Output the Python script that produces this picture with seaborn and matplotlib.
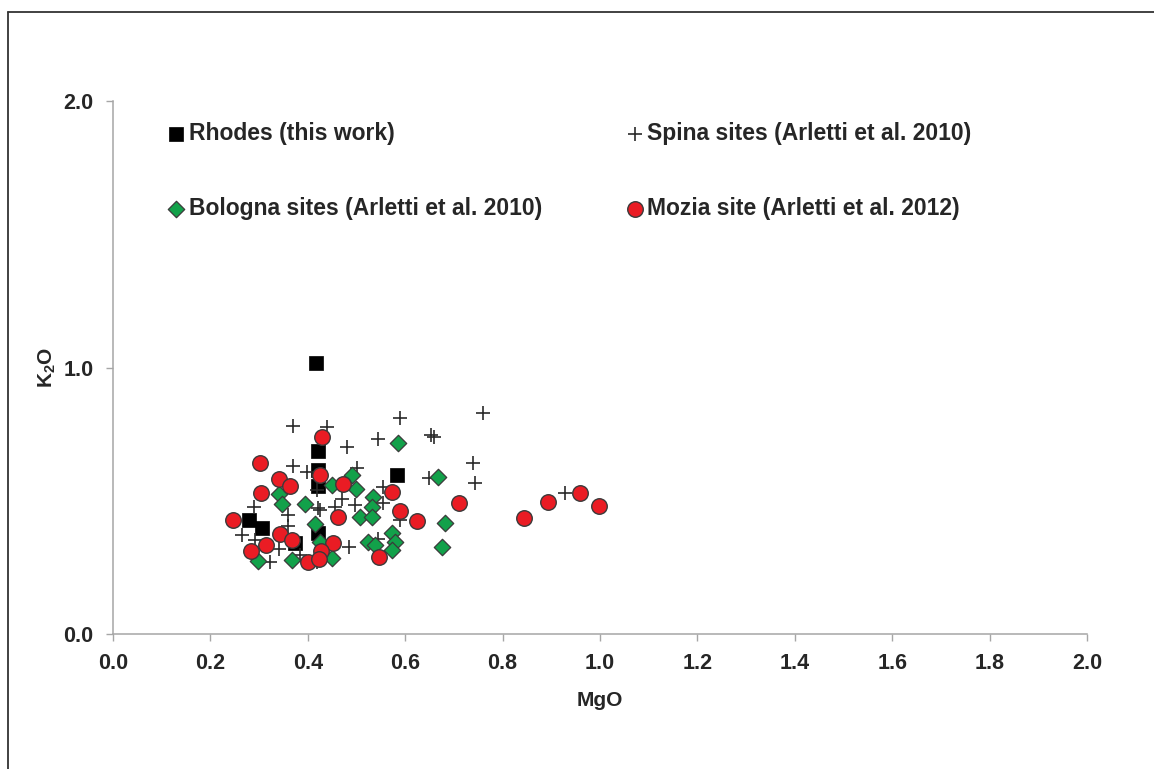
import matplotlib
matplotlib.use("Agg")
import matplotlib.pyplot as plt
import seaborn as sns
import pandas as pd
from matplotlib.lines import Line2D

# ---------------- data (MgO, K2O) ----------------
rhodes_mgo = [0.416, 0.420, 0.420, 0.420, 0.583, 0.279, 0.306, 0.374, 0.421]
rhodes_k2o = [1.018, 0.687, 0.615, 0.555, 0.597, 0.428, 0.397, 0.342, 0.379]

spina_mgo = [0.370, 0.440, 0.590, 0.545, 0.480, 0.370, 0.398, 0.500, 0.555, 0.470,
             0.456, 0.497, 0.555, 0.590, 0.290, 0.360, 0.360, 0.420, 0.418, 0.264,
             0.292, 0.340, 0.322, 0.384, 0.418, 0.485, 0.545, 0.654, 0.660, 0.760,
             0.740, 0.743, 0.648, 0.928, 0.425]
spina_k2o = [0.780, 0.778, 0.810, 0.730, 0.700, 0.630, 0.609, 0.622, 0.550, 0.508,
             0.478, 0.485, 0.490, 0.428, 0.475, 0.445, 0.405, 0.472, 0.540, 0.371,
             0.353, 0.318, 0.272, 0.298, 0.272, 0.328, 0.355, 0.748, 0.740, 0.830,
             0.643, 0.565, 0.585, 0.530, 0.465]

bologna_mgo = [0.586, 0.490, 0.449, 0.499, 0.340, 0.346, 0.394, 0.534, 0.532, 0.507,
               0.531, 0.415, 0.572, 0.579, 0.572, 0.524, 0.538, 0.298, 0.367, 0.449,
               0.425, 0.668, 0.682, 0.675]
bologna_k2o = [0.716, 0.595, 0.559, 0.543, 0.527, 0.488, 0.487, 0.514, 0.478, 0.440,
               0.440, 0.412, 0.380, 0.346, 0.314, 0.346, 0.334, 0.275, 0.279, 0.287,
               0.346, 0.588, 0.418, 0.328]

mozia_mgo = [0.429, 0.302, 0.340, 0.363, 0.303, 0.425, 0.473, 0.572, 0.589, 0.624,
             0.463, 0.247, 0.342, 0.367, 0.283, 0.314, 0.452, 0.427, 0.401, 0.423,
             0.546, 0.711, 0.843, 0.894, 0.959, 0.997]
mozia_k2o = [0.740, 0.640, 0.582, 0.557, 0.530, 0.597, 0.561, 0.532, 0.463, 0.423,
             0.440, 0.428, 0.377, 0.354, 0.313, 0.333, 0.340, 0.312, 0.271, 0.280,
             0.289, 0.493, 0.434, 0.497, 0.528, 0.480]

labels = ["Rhodes (this work)", "Spina sites (Arletti et al. 2010)",
          "Bologna sites (Arletti et al. 2010)", "Mozia site (Arletti et al. 2012)"]
x_ticks = [0.0, 0.2, 0.4, 0.6, 0.8, 1.0, 1.2, 1.4, 1.6, 1.8, 2.0]
y_ticks = [0.0, 1.0, 2.0]

# ---------------- style ----------------
sns.set_style("white")
plt.rcParams["font.family"] = ["Liberation Sans", "DejaVu Sans"]
plt.rcParams["font.weight"] = "bold"
plt.rcParams["mathtext.fontset"] = "custom"
plt.rcParams["mathtext.rm"] = "Liberation Sans:bold"
plt.rcParams["mathtext.default"] = "rm"

fig = plt.figure(figsize=(11.54, 7.69), dpi=100)
ax = fig.add_axes([113 / 1154, 1 - 634 / 769, (1087 - 113) / 1154, (634 - 101) / 769])

edge = "#3a3a3a"
sns.scatterplot(x=rhodes_mgo, y=rhodes_k2o, ax=ax, marker="s", s=100,
                color="black", edgecolor="black", linewidth=0.5, label=labels[0], zorder=3)
sns.scatterplot(x=spina_mgo, y=spina_k2o, ax=ax, marker="+", s=115,
                color="#2a2a2a", linewidth=1.2, label=labels[1], zorder=3)
sns.scatterplot(x=bologna_mgo, y=bologna_k2o, ax=ax, marker="D", s=70,
                color="#12a14a", edgecolor=edge, linewidth=0.9, label=labels[2], zorder=4)
sns.scatterplot(x=mozia_mgo, y=mozia_k2o, ax=ax, marker="o", s=125,
                color="#ea1c24", edgecolor=edge, linewidth=1.0, label=labels[3], zorder=5)

ax.set_xlim(0, 2.0)
ax.set_ylim(0, 2.0)
ax.set_xticks(x_ticks)
ax.set_xticklabels([f"{v:.1f}" for v in x_ticks])
ax.set_yticks(y_ticks)
ax.set_yticklabels([f"{v:.1f}" for v in y_ticks])

for side in ["top", "right"]:
    ax.spines[side].set_visible(False)
for side in ["left", "bottom"]:
    ax.spines[side].set_color("#a6a6a6")
    ax.spines[side].set_linewidth(1.1)
ax.tick_params(axis="both", which="major", direction="out", length=5, width=1.0,
               color="#a6a6a6", labelsize=15.5, bottom=True, left=True)
ax.tick_params(axis="x", pad=9)
ax.tick_params(axis="y", pad=9)
for t in ax.get_xticklabels() + ax.get_yticklabels():
    t.set_fontweight("bold")

ax.set_xlabel("MgO", fontsize=15, fontweight="bold", labelpad=12)
ax.set_ylabel("K$_2$O", fontsize=15, fontweight="bold", labelpad=4)

# legend: two columns, order Rhodes/Bologna in col 1, Spina/Mozia in col 2
h, l = ax.get_legend_handles_labels()
order = [0, 2, 1, 3]
leg = ax.legend([h[i] for i in order], [l[i] for i in order], ncol=2,
                loc="upper left", bbox_to_anchor=(0.033, 0.9986), frameon=False,
                prop={"weight": "bold", "size": 16.5}, handletextpad=0.1,
                handlelength=0.9, columnspacing=3.6, labelspacing=2.27,
                markerscale=1.0)

# partial outer frame (top and left)
fig.add_artist(Line2D([8 / 1154, 8 / 1154], [0, 1 - 12 / 769], color="#333333",
                      lw=1.3, transform=fig.transFigure))
fig.add_artist(Line2D([8 / 1154, 1], [1 - 12 / 769, 1 - 12 / 769], color="#333333",
                      lw=1.3, transform=fig.transFigure))

fig.savefig("out.png", dpi=100, facecolor="white")
